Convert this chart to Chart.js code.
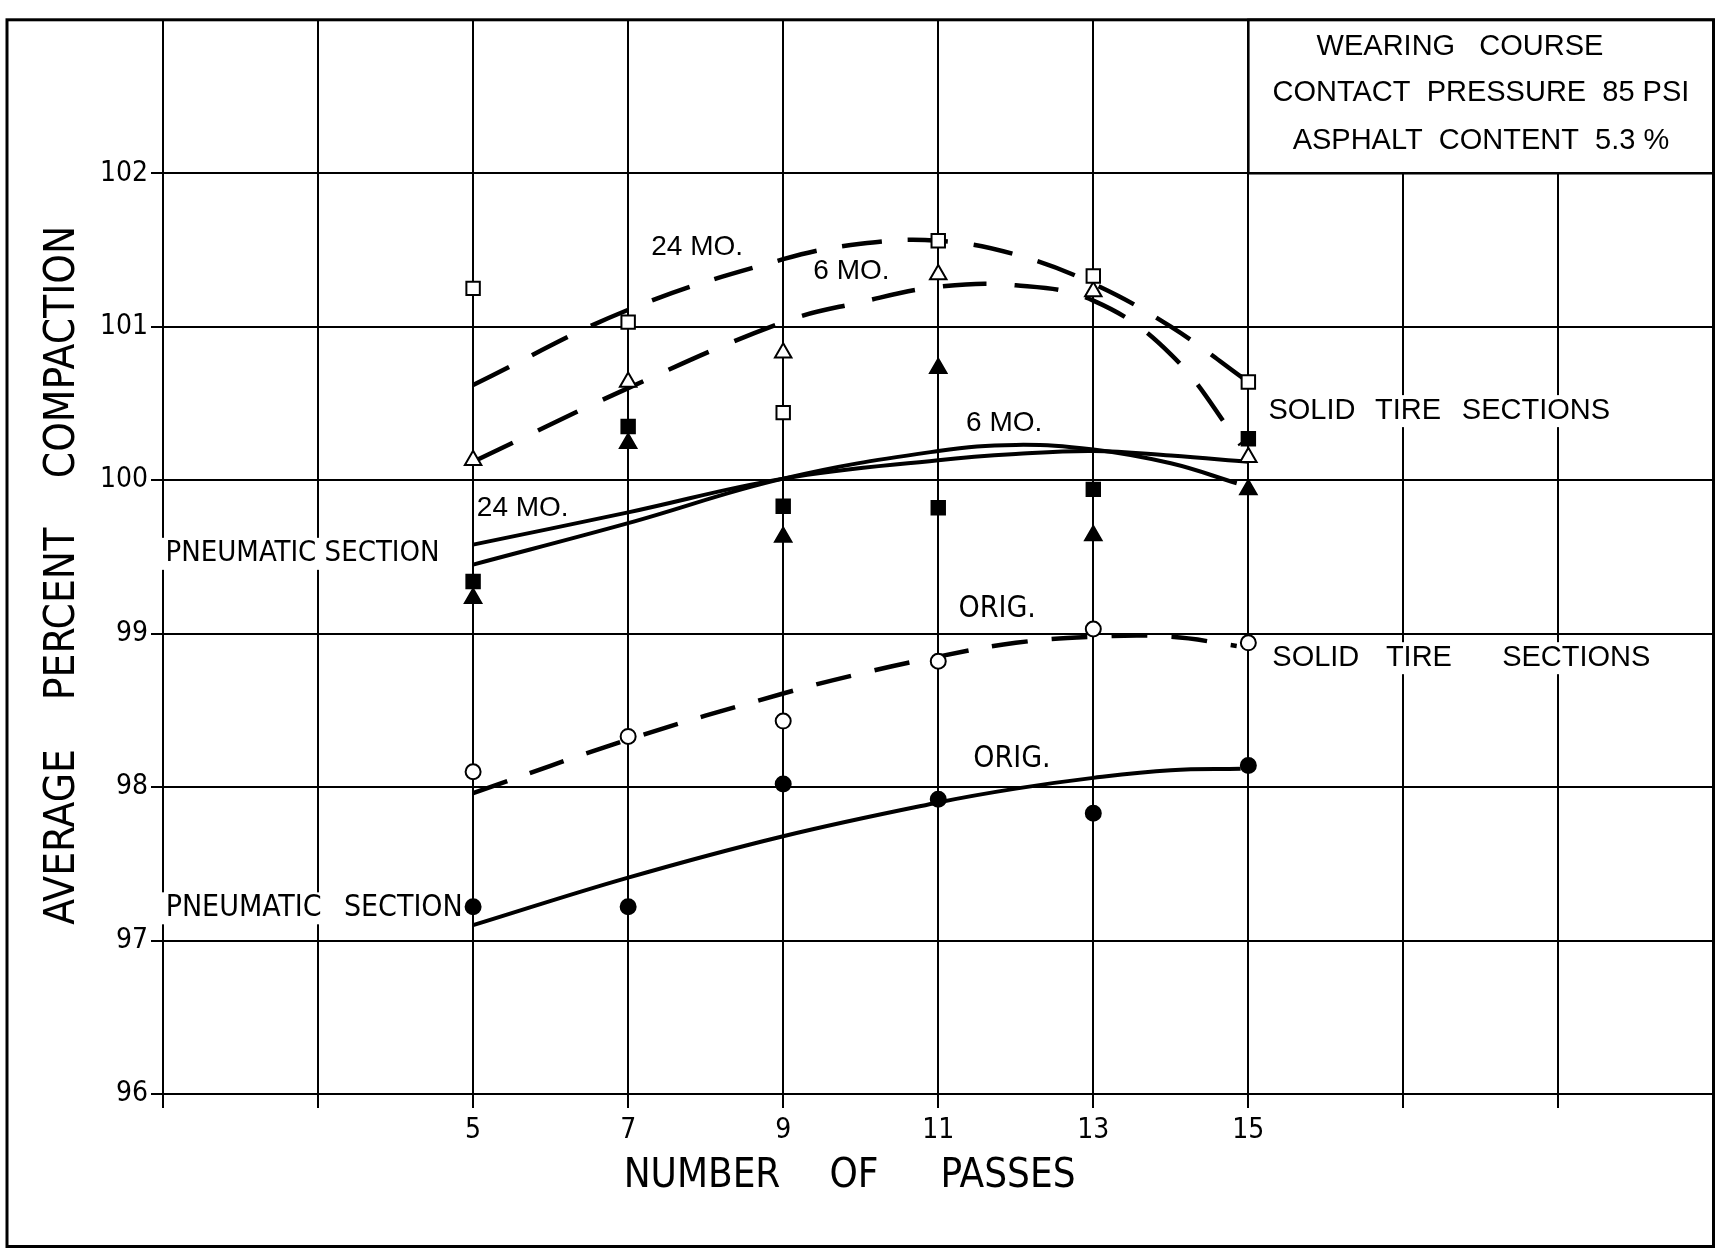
<!DOCTYPE html>
<html><head><meta charset="utf-8">
<script src="https://cdn.jsdelivr.net/npm/chart.js@4.4.1/dist/chart.umd.min.js"></script>
<style>html,body{margin:0;padding:0;background:#fff;}canvas{display:block;}</style>
</head><body>
<canvas id="c" width="1725" height="1248"></canvas>
<script>
// ---- data ----
const passes = [5, 7, 9, 11, 13, 15];
const solid24 = [101.25, 101.03, 100.44, 101.56, 101.33, 100.64];   // open squares
const solid6 = [100.13, 100.64, 100.83, 101.34, 101.23, 100.15];    // open triangles
const pneu24 = [99.34, 100.35, 99.83, 99.82, 99.94, 100.27];        // filled squares
const pneu6 = [99.23, 100.24, 99.63, 100.73, 99.64, 99.94];         // filled triangles
const solidOrig = [98.10, 98.33, 98.43, 98.82, 99.03, 98.94];       // open circles
const pneuOrig = [97.22, 97.22, 98.02, 97.92, 97.83, 98.14];        // filled circles

// fitted curves
const fitSolid24X = [5, 7, 9, 10, 11, 12, 13, 14, 15];
const fitSolid24Y = [100.62, 101.11, 101.44, 101.54, 101.56, 101.47, 101.28, 101.00, 100.64];
const fitSolid6X = [5, 7, 9, 10, 11, 12, 13, 14, 14.9];
const fitSolid6Y = [100.12, 100.60, 101.03, 101.16, 101.26, 101.27, 101.17, 100.82, 100.23];
const fitPneu6X = [5, 7, 9, 11, 12, 13, 14, 14.85];
const fitPneu6Y = [99.45, 99.72, 100.01, 100.19, 100.23, 100.20, 100.11, 99.98];
const fitPneu24X = [5, 7, 9, 11, 12, 13, 14, 15];
const fitPneu24Y = [99.58, 99.79, 100.01, 100.13, 100.17, 100.19, 100.16, 100.12];
const fitSolidOrigX = [5, 7, 9, 10, 11, 12, 13, 14, 14.85];
const fitSolidOrigY = [97.96, 98.31, 98.61, 98.74, 98.85, 98.94, 98.98, 98.98, 98.92];
const fitPneuOrigX = [5, 7, 9, 11, 12, 13, 14, 14.9];
const fitPneuOrigY = [97.10, 97.41, 97.68, 97.90, 97.99, 98.06, 98.11, 98.12];

const xGridValues = [1, 3, 5, 7, 9, 11, 13, 15, 17, 19, 21];
const xTickLabels = [5, 7, 9, 11, 13, 15];
const yGridValues = [96, 97, 98, 99, 100, 101, 102, 103];
const yTickLabels = [96, 97, 98, 99, 100, 101, 102];

const infoLines = ['WEARING   COURSE', 'CONTACT  PRESSURE  85 PSI', 'ASPHALT  CONTENT  5.3 %'];

// ---- helpers ----
const NARROW = '"Liberation Sans Narrow", "DejaVu Sans Condensed", "Liberation Sans", sans-serif';
const REG = '"Liberation Sans", Arial, sans-serif';
const pts = (xs, ys) => xs.map((x, i) => ({x: x, y: ys[i]}));

function markerSet(vals, style, filled, r) {
  return {
    data: pts(passes, vals), showLine: false, pointStyle: style,
    pointRadius: r, pointBorderWidth: 2, pointBorderColor: '#000',
    pointBackgroundColor: filled ? '#000' : '#fff', order: 0
  };
}
function curveSet(xs, ys, dash, w) {
  return {
    data: pts(xs, ys), showLine: true, pointRadius: 0, borderColor: '#000',
    borderWidth: w, borderDash: dash, tension: 0.4, fill: false, order: 1,
    borderCapStyle: 'butt'
  };
}

const annot = {
  id: 'annot',
  beforeDatasetsDraw(chart) {
    const {ctx, scales: {x, y}, chartArea: ca} = chart;
    const X = v => x.getPixelForValue(v), Y = v => y.getPixelForValue(v);
    ctx.save();
    // info box (top right)
    const bx0 = X(15), bx1 = ca.right, by0 = ca.top, by1 = Y(102);
    ctx.fillStyle = '#fff';
    ctx.fillRect(bx0 + 1, by0 + 1, bx1 - bx0 - 2, by1 - by0 - 2);
    ctx.strokeStyle = '#000'; ctx.lineWidth = 2.5;
    ctx.strokeRect(bx0, by0, bx1 - bx0, by1 - by0);
    ctx.fillStyle = '#000';
    ctx.textAlign = 'center'; ctx.textBaseline = 'middle';
    ctx.font = '29px ' + REG;
    const infoPos = [[17.73, 102.82], [18.0, 102.52], [18.0, 102.21]];
    infoLines.forEach((t, i) => ctx.fillText(t, X(infoPos[i][0]), Y(infoPos[i][1])));

    function label(t, xv, yv, font, bg) {
      ctx.font = font;
      const w = ctx.measureText(t).width;
      const px = X(xv), py = Y(yv);
      if (bg) { ctx.fillStyle = '#fff'; ctx.fillRect(px - w / 2 - 6, py - 16, w + 12, 32); }
      ctx.fillStyle = '#000';
      ctx.fillText(t, px, py);
    }
    const f28 = '28px ' + REG, f29 = '29px ' + REG, n30 = '30px ' + NARROW, n29 = '29px ' + NARROW;
    label('24 MO.', 7.89, 101.52, f28);
    label('6 MO.', 9.88, 101.36, f28);
    label('6 MO.', 11.85, 100.37, f28);
    label('24 MO.', 5.64, 99.82, f28);
    label('ORIG.', 11.76, 99.16, n30);
    label('ORIG.', 11.95, 98.18, n30);
    label('PNEUMATIC SECTION', 2.80, 99.52, n29, true);
    label('PNEUMATIC', 2.04, 97.21, n30, true);
    label('SECTION', 4.10, 97.21, n30, true);
    label('SOLID', 15.82, 100.45, f29, true);
    label('TIRE', 17.06, 100.45, f29, true);
    label('SECTIONS', 18.71, 100.45, f29, true);
    label('SOLID', 15.87, 98.84, f29, true);
    label('TIRE', 17.20, 98.84, f29, true);
    label('SECTIONS', 19.23, 98.84, f29, true);

    // axis titles
    ctx.fillStyle = '#000';
    ctx.font = '40px ' + NARROW;
    const ty = 1177;
    ctx.fillText('NUMBER', 702, ty);
    ctx.fillText('OF', 854, ty);
    ctx.fillText('PASSES', 1008, ty);
    ctx.save();
    ctx.translate(63, 0);
    ctx.rotate(-Math.PI / 2);
    ctx.font = '42px ' + NARROW;
    ctx.fillText('AVERAGE', -837, 0);
    ctx.fillText('PERCENT', -614, 0);
    ctx.fillText('COMPACTION', -352, 0);
    ctx.restore();
    ctx.restore();
  },
  afterDraw(chart) {
    const {ctx, chartArea: ca} = chart;
    ctx.save();
    ctx.strokeStyle = '#000'; ctx.lineWidth = 3;
    ctx.strokeRect(7, ca.top, ca.right - 7, 1246.5 - ca.top);
    ctx.restore();
  }
};

new Chart(document.getElementById('c'), {
  type: 'scatter',
  data: {
    datasets: [
      markerSet(solid24, 'rect', false, 9.5),
      markerSet(solid6, 'triangle', false, 9.5),
      markerSet(pneu24, 'rect', true, 9.5),
      markerSet(pneu6, 'triangle', true, 9.5),
      markerSet(solidOrig, 'circle', false, 7.5),
      markerSet(pneuOrig, 'circle', true, 7.5),
      curveSet(fitSolid24X, fitSolid24Y, [40, 26], 4.5),
      curveSet(fitSolid6X, fitSolid6Y, [44, 28], 4.5),
      curveSet(fitPneu6X, fitPneu6Y, [], 4),
      curveSet(fitPneu24X, fitPneu24Y, [], 4),
      curveSet(fitSolidOrigX, fitSolidOrigY, [36, 24], 4.5),
      curveSet(fitPneuOrigX, fitPneuOrigY, [], 4)
    ]
  },
  options: {
    responsive: false, animation: false, devicePixelRatio: 1,
    layout: {padding: {left: 0, right: 9, top: 17, bottom: 0}},
    plugins: {legend: {display: false}, tooltip: {enabled: false}},
    scales: {
      x: {
        type: 'linear', min: 1, max: 21,
        afterBuildTicks: s => { s.ticks = xGridValues.map(v => ({value: v})); },
        grid: {color: '#000', lineWidth: 2, tickLength: 14, drawTicks: true},
        border: {color: '#000', width: 2},
        ticks: {
          autoSkip: false, maxRotation: 0, color: '#000', padding: 6,
          font: {family: NARROW, size: 28},
          callback: v => xTickLabels.includes(v) ? String(v) : ''
        },
        afterFit: s => { s.height = 154; }
      },
      y: {
        type: 'linear', min: 96, max: 103,
        afterBuildTicks: s => { s.ticks = yGridValues.map(v => ({value: v})); },
        grid: {color: '#000', lineWidth: 2, tickLength: 12, drawTicks: true},
        border: {color: '#000', width: 2},
        ticks: {
          autoSkip: false, color: '#000', padding: 3,
          font: {family: NARROW, size: 28},
          callback: v => yTickLabels.includes(v) ? String(v) : ''
        },
        afterFit: s => { s.width = 163; }
      }
    }
  },
  plugins: [annot]
});
</script>
</body></html>
